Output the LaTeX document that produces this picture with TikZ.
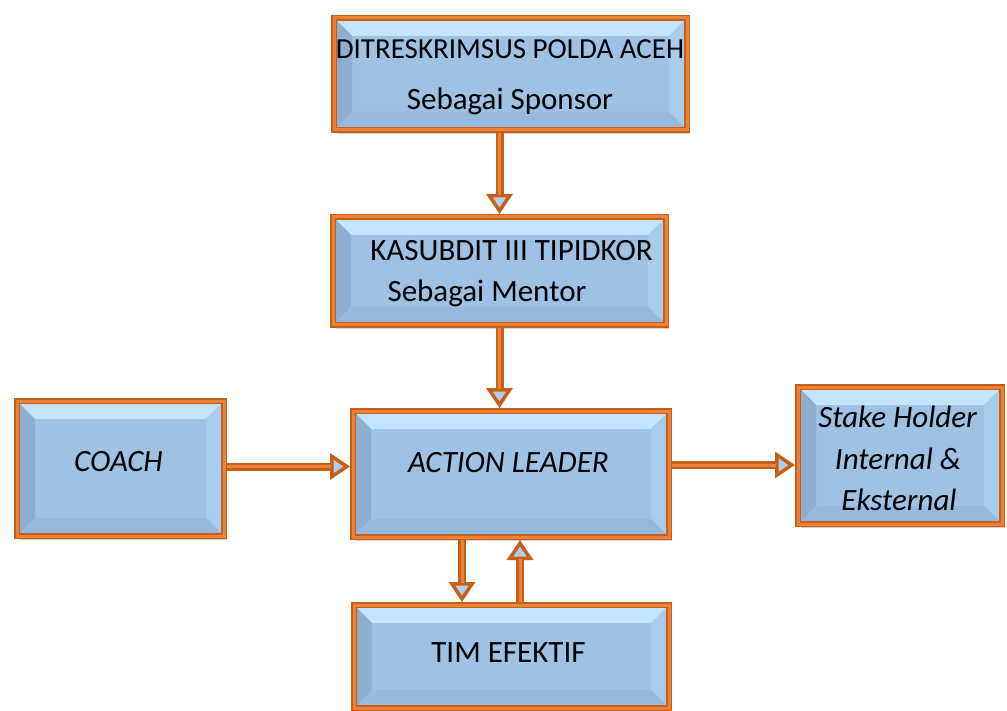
\documentclass[tikz,border=0pt]{standalone}
\usepackage{fontspec}
\setmainfont{Carlito}
\usetikzlibrary{arrows.meta,shadows,calc}
\definecolor{bord}{RGB}{200,95,25}
\definecolor{bordL}{RGB}{236,130,55}
\definecolor{bfill}{RGB}{158,194,228}
\definecolor{bevT}{RGB}{196,228,250}
\definecolor{bevL}{RGB}{140,174,208}
\definecolor{bevR}{RGB}{168,204,236}
\definecolor{bevB}{RGB}{150,186,222}
\definecolor{headfill}{RGB}{175,208,236}
\tikzset{
  bevel/.style={path picture={
    \coordinate (pnw) at (path picture bounding box.north west);
    \coordinate (pne) at (path picture bounding box.north east);
    \coordinate (psw) at (path picture bounding box.south west);
    \coordinate (pse) at (path picture bounding box.south east);
    \fill[bevT] (pnw) -- (pne) -- ([shift={(-#1,-#1)}]pne) -- ([shift={(#1,-#1)}]pnw) -- cycle;
    \fill[bevL] (pnw) -- (psw) -- ([shift={(#1,#1)}]psw) -- ([shift={(#1,-#1)}]pnw) -- cycle;
    \fill[bevR] (pne) -- (pse) -- ([shift={(-#1,#1)}]pse) -- ([shift={(-#1,-#1)}]pne) -- cycle;
    \fill[bevB] (psw) -- (pse) -- ([shift={(-#1,#1)}]pse) -- ([shift={(#1,#1)}]psw) -- cycle;
  }},
  boxnode/.style={rectangle, draw=bord, line width=6pt, fill=bfill, inner sep=0pt,
    bevel=18pt,
    drop shadow={shadow xshift=3pt, shadow yshift=-4pt, opacity=0.25, fill=black!70},
    postaction={draw=bordL, line width=3pt}},
  arr/.style={draw=bord, line width=8pt,
    -{Triangle[width=26pt,length=20pt,fill=headfill,line width=3.5pt]},
    postaction={draw=bordL, line width=3pt, shorten >=19pt, -}},
  lbl/.style={anchor=base, inner sep=0pt, font=\fontsize{31}{36}\selectfont},
  ilbl/.style={lbl, font=\fontsize{31}{36}\selectfont\itshape},
}
\begin{document}
\begin{tikzpicture}[x=1pt,y=-1pt]
\useasboundingbox[fill=white] (0,0) rectangle (1007,711);
\node[boxnode, minimum width=353pt, minimum height=112pt] (b1) at (510.5,74) {};
\node[boxnode, minimum width=333pt, minimum height=108pt] (b2) at (499.5,271) {};
\node[boxnode, minimum width=316pt, minimum height=126pt] (b3) at (511,474) {};
\node[boxnode, minimum width=207pt, minimum height=135pt] (coach) at (120.5,468.5) {};
\node[boxnode, minimum width=204pt, minimum height=137pt] (stake) at (900,455.5) {};
\node[boxnode, minimum width=315pt, minimum height=103pt] (tim) at (511.5,656.5) {};

\node[lbl, font=\fontsize{29}{34}\selectfont] (t1a) at (510,59) {DITRESKRIMSUS POLDA ACEH};
\node[lbl] (t1b) at (510,110) {Sebagai Sponsor};
\node[lbl] (t2a) at (511.5,261) {KASUBDIT III TIPIDKOR};
\node[lbl] (t2b) at (487,302) {Sebagai Mentor};
\node[ilbl] (t3) at (508.5,472) {ACTION LEADER};
\node[ilbl] (tc) at (118.5,471) {COACH};
\node[ilbl] (ts1) at (897.5,427) {Stake Holder};
\node[ilbl] (ts2) at (898,469) {Internal \&};
\node[ilbl] (ts3) at (899,510) {Eksternal};
\node[lbl] (tt) at (508.5,662) {TIM EFEKTIF};

\draw[arr] (b1.south -| b2.north) -- (b2.north);
\draw[arr] (b2.south) -- (b2.south |- b3.north);
\draw[arr] ([yshift=2pt]coach.east) -- ([yshift=2pt]coach.east -| b3.west);
\draw[arr] ([yshift=9pt]b3.east) -- ([yshift=9pt]b3.east -| stake.west);
\draw[arr] ([xshift=-49pt]b3.south) -- ([xshift=-49pt]b3.south |- tim.north);
\draw[arr] ([xshift=8.5pt]tim.north) -- ([xshift=8.5pt]tim.north |- b3.south);
\end{tikzpicture}
\end{document}
